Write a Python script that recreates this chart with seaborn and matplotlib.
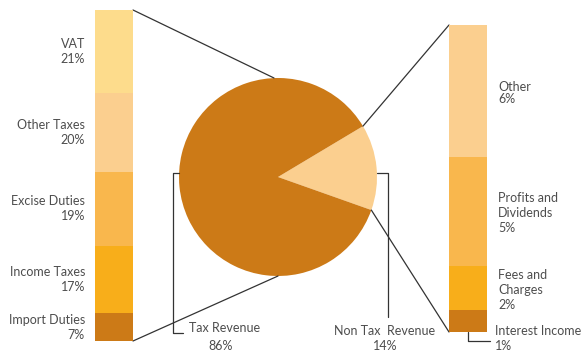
import numpy as np
import matplotlib
matplotlib.use("Agg")
import matplotlib.pyplot as plt
import seaborn as sns

# Revenue split (percent of total revenue)
split_labels = ["Non Tax  Revenue", "Tax Revenue"]
split_values = [14, 86]
split_colors = ["#FBCF8F", "#CC7A17"]

# Tax revenue breakdown, top to bottom
tax_labels = ["VAT", "Other Taxes", "Excise Duties", "Income Taxes", "Import Duties"]
tax_values = [21, 20, 19, 17, 7]
tax_colors = ["#FDDC8C", "#FBCF8F", "#F9B74D", "#F8AE1A", "#CC7A17"]

# Non-tax revenue breakdown, top to bottom
nontax_labels = ["Other", "Profits and\nDividends", "Fees and\nCharges", "Interest Income"]
nontax_values = [6, 5, 2, 1]
nontax_colors = ["#FBCF8F", "#F9B74D", "#F8AE1A", "#CC7A17"]

sns.set_theme(style="white")
plt.rcParams["font.family"] = ["Lato", "DejaVu Sans"]
TXT = "#4d4d4d"
LINE = "#333333"
FS = 9

W, H = 583, 354
fig = plt.figure(figsize=(W / 100, H / 100), dpi=100)
ax = fig.add_axes([0, 0, 1, 1])

# pie in pixel space (y grows downward)
cx, cy, r = 278, 177, 99
lower_edge = -19.5  # visual angle of the lower edge of the non-tax wedge
span = split_values[0] / sum(split_values) * 360
ax.pie(split_values, colors=split_colors, center=(cx, cy), radius=r,
       startangle=-(lower_edge + span), counterclock=True,
       wedgeprops=dict(linewidth=0))
ax.set_xlim(0, W)
ax.set_ylim(H, 0)
ax.set_aspect("equal")
ax.axis("off")


def stacked_bar(rect, values, colors):
    """Vertical stacked bar, first item on top, inside its own axes."""
    x0, y0, x1, y1 = rect
    bax = fig.add_axes([x0 / W, 1 - y1 / H, (x1 - x0) / W, (y1 - y0) / H])
    total = sum(values)
    cum = np.cumsum(values[::-1])[::-1]  # cumulative from bottom
    for c, col in zip(cum, colors):
        sns.barplot(x=["s"], y=[c], color=col, width=1, saturation=1,
                    ax=bax, linewidth=0)
    bax.set_xlim(-0.5, 0.5)
    bax.set_ylim(0, total)
    bax.axis("off")
    mids = [(c - v / 2) for c, v in zip(cum, values)]
    return bax, mids, total


# left bar: tax revenue
L = (95, 10, 133, 341)
lax, lmids, ltot = stacked_bar(L, tax_values, tax_colors)
for lab, val, m in zip(tax_labels, tax_values, lmids):
    ypix = L[3] - m / ltot * (L[3] - L[1])
    ax.text(85, ypix, f"{lab}\n{val}%", ha="right", va="center",
            fontsize=FS, color=TXT, linespacing=1.3)

# right bar: non-tax revenue
R = (449, 25, 487, 332)
rax, rmids, rtot = stacked_bar(R, nontax_values, nontax_colors)
for lab, val, m in list(zip(nontax_labels, nontax_values, rmids))[:-1]:
    ypix = R[3] - m / rtot * (R[3] - R[1])
    ls = 0.95 if "\n" not in lab else 1.3
    ax.text(498, ypix + 2, f"{lab}\n{val}%", ha="left", va="center",
            fontsize=FS, color=TXT, linespacing=ls)

# interest income callout below the right bar
ax.plot([468, 468, 490], [R[3], 341, 341], color=LINE, lw=0.9)
ax.text(495, 331, nontax_labels[-1], ha="left", va="center", fontsize=FS, color=TXT)
ax.text(495, 346, f"{nontax_values[-1]}%", ha="left", va="center", fontsize=FS, color=TXT)

# connector lines from the bars to the pie
ax.plot([L[2], cx - 4], [L[1], cy - r], color=LINE, lw=0.9)
ax.plot([L[2], cx], [L[3], cy + r], color=LINE, lw=0.9)
a_up = np.deg2rad(lower_edge + span)
a_lo = np.deg2rad(lower_edge)
ax.plot([R[0], cx + r * np.cos(a_up)], [R[1], cy - r * np.sin(a_up)], color=LINE, lw=0.9)
ax.plot([R[0], cx + r * np.cos(a_lo)], [R[3], cy - r * np.sin(a_lo)], color=LINE, lw=0.9)

# brackets naming the pie slices
by = 173
lx = cx - np.sqrt(r ** 2 - (cy - by) ** 2)
rx = cx + np.sqrt(r ** 2 - (cy - by) ** 2)
ax.plot([lx, 173, 173, 183], [by, by, 333, 333], color=LINE, lw=0.9)
ax.plot([rx, 388, 388], [by, by, 317], color=LINE, lw=0.9)
ax.text(189, 328, split_labels[1], ha="left", va="center", fontsize=FS, color=TXT)
ax.text(221, 346, f"{split_values[1]}%", ha="center", va="center", fontsize=FS, color=TXT)
ax.text(385, 331, split_labels[0], ha="center", va="center", fontsize=FS, color=TXT)
ax.text(385, 346, f"{split_values[0]}%", ha="center", va="center", fontsize=FS, color=TXT)

fig.savefig("out.png", dpi=100, facecolor="white")
